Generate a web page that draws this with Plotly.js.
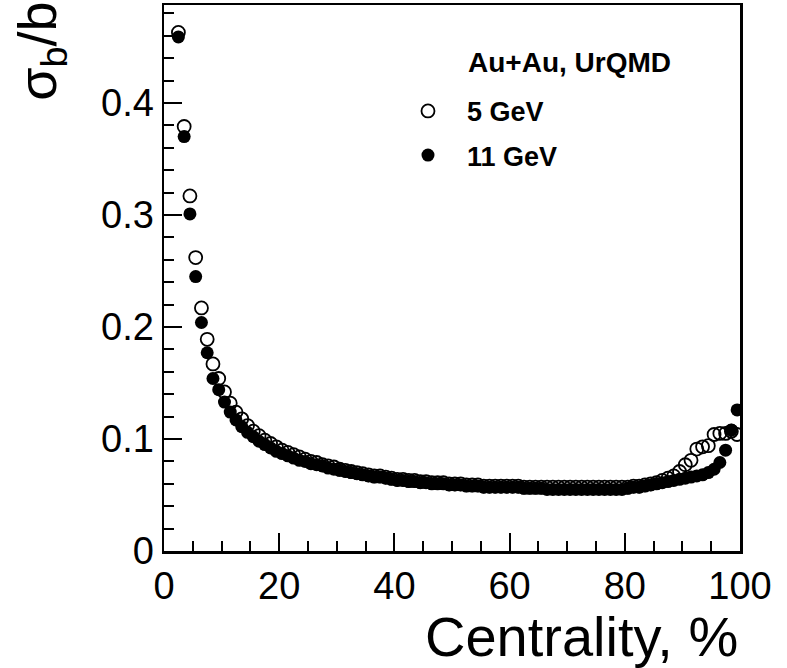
<!DOCTYPE html>
<html>
<head>
<meta charset="utf-8">
<script src="https://cdn.plot.ly/plotly-3.0.1.min.js"></script>
<style>html,body{margin:0;padding:0;background:#fff;}</style>
</head>
<body>
<div id="chart" style="width:787px;height:668px;"></div>
<script>
// Centrality bin centres (%)
const centrality = [2.5,3.5,4.5,5.5,6.5,7.5,8.5,9.5,10.5,11.5,12.5,13.5,14.5,15.5,16.5,17.5,18.5,19.5,20.5,21.5,22.5,23.5,24.5,25.5,26.5,27.5,28.5,29.5,30.5,31.5,32.5,33.5,34.5,35.5,36.5,37.5,38.5,39.5,40.5,41.5,42.5,43.5,44.5,45.5,46.5,47.5,48.5,49.5,50.5,51.5,52.5,53.5,54.5,55.5,56.5,57.5,58.5,59.5,60.5,61.5,62.5,63.5,64.5,65.5,66.5,67.5,68.5,69.5,70.5,71.5,72.5,73.5,74.5,75.5,76.5,77.5,78.5,79.5,80.5,81.5,82.5,83.5,84.5,85.5,86.5,87.5,88.5,89.5,90.5,91.5,92.5,93.5,94.5,95.5,96.5,97.5,98.5,99.5];

// sigma_b / b, Au+Au UrQMD, 5 GeV (open circles)
const sigma5GeV = [0.463,0.379,0.317,0.262,0.217,0.189,0.167,0.154,0.142,0.132,
  0.124,0.118,0.112,0.107,0.103,0.099,0.096,0.093,0.090,0.088,
  0.086,0.084,0.082,0.080,0.079,0.077,0.076,0.075,0.073,0.072,
  0.071,0.070,0.069,0.068,0.067,0.067,0.066,0.065,0.064,0.064,
  0.063,0.063,0.062,0.062,0.061,0.061,0.061,0.060,0.060,0.060,
  0.059,0.059,0.059,0.058,0.058,0.058,0.058,0.058,0.058,0.058,
  0.057,0.057,0.057,0.057,0.057,0.057,0.057,0.057,0.057,0.057,
  0.057,0.057,0.057,0.057,0.057,0.057,0.057,0.057,0.057,0.058,
  0.058,0.059,0.060,0.061,0.063,0.065,0.067,0.071,0.077,0.081,
  0.091,0.093,0.094,0.104,0.105,0.105,0.107,0.104];

// sigma_b / b, Au+Au UrQMD, 11 GeV (filled circles)
const sigma11GeV = [0.459,0.370,0.301,0.245,0.204,0.177,0.154,0.144,0.133,0.124,
  0.117,0.111,0.106,0.102,0.098,0.095,0.092,0.089,0.087,0.085,
  0.083,0.081,0.080,0.078,0.077,0.076,0.074,0.073,0.072,0.071,
  0.070,0.069,0.068,0.067,0.066,0.066,0.065,0.064,0.063,0.063,
  0.062,0.062,0.061,0.061,0.060,0.060,0.060,0.059,0.059,0.059,
  0.058,0.058,0.058,0.057,0.057,0.057,0.057,0.057,0.057,0.057,
  0.056,0.056,0.056,0.056,0.055,0.055,0.055,0.055,0.055,0.055,
  0.055,0.055,0.055,0.055,0.055,0.055,0.055,0.055,0.056,0.057,
  0.057,0.058,0.059,0.060,0.061,0.062,0.063,0.064,0.065,0.066,
  0.067,0.068,0.070,0.073,0.079,0.090,0.108,0.126];

const xTickVals = [0,20,40,60,80,100];
const yTickVals = [0,0.1,0.2,0.3,0.4];
const yTickText = ["0","0.1","0.2","0.3","0.4"];

const FONT = "Liberation Sans, Arial, Helvetica, sans-serif";

const traces = [
  {
    x: centrality, y: sigma5GeV, type: 'scatter', mode: 'markers', name: '<b>5 GeV</b>',
    legendgroup: 'a',
    marker: {symbol: 'circle-open', size: 13, color: '#000', line: {width: 1.8, color: '#000'}}
  },
  {
    x: centrality, y: sigma11GeV, type: 'scatter', mode: 'markers', name: '<b>11 GeV</b>',
    legendgroup: 'b',
    marker: {symbol: 'circle', size: 13, color: '#000'}
  }
];

const axisCommon = {
  showgrid: false, zeroline: false, showline: true, linecolor: '#000', linewidth: 2.5,
  mirror: true, ticks: 'inside', ticklen: 18, tickwidth: 2, tickcolor: '#000',
  tickfont: {family: FONT, size: 38, color: '#000'}
};

const layout = {
  width: 787, height: 668,
  margin: {l: 164, r: 47, t: 5, b: 117},
  paper_bgcolor: '#fff', plot_bgcolor: '#fff',
  font: {family: FONT, color: '#000'},
  showlegend: true,
  legend: {
    x: 0.3906, y: 0.85, xanchor: 'left', yanchor: 'top',
    bgcolor: 'rgba(0,0,0,0)', borderwidth: 0, itemwidth: 68,
    font: {family: FONT, size: 27, color: '#000'},
    traceorder: 'grouped', tracegroupgap: 6
  },
  xaxis: Object.assign({}, axisCommon, {
    range: [0, 100], tickvals: xTickVals,
    minor: {dtick: 5, ticklen: 10, tickwidth: 2, tickcolor: '#000', ticks: 'inside'}
  }),
  yaxis: Object.assign({}, axisCommon, {
    range: [0, 0.4875], tickvals: yTickVals, ticktext: yTickText,
    minor: {dtick: 0.02, ticklen: 10, tickwidth: 2, tickcolor: '#000', ticks: 'inside'}
  }),
  annotations: [
    {text: 'Centrality, %', xref: 'paper', yref: 'paper', x: 1.0, y: -0.156,
     xanchor: 'right', yanchor: 'middle', showarrow: false,
     font: {family: FONT, size: 56, color: '#000'}},
    {text: 'σ<sub>b</sub>/b', xref: 'paper', yref: 'paper', x: -0.215, y: 1.009,
     xanchor: 'center', yanchor: 'top', textangle: -90, showarrow: false,
     font: {family: FONT, size: 54, color: '#000'}},
    {text: '<b>Au+Au, UrQMD</b>', xref: 'paper', yref: 'paper', x: 0.524, y: 0.8956,
     xanchor: 'left', yanchor: 'middle', showarrow: false,
     font: {family: FONT, size: 28, color: '#000'}}
  ]
};

Plotly.newPlot('chart', traces, layout, {displayModeBar: false, staticPlot: true});
</script>
</body>
</html>
